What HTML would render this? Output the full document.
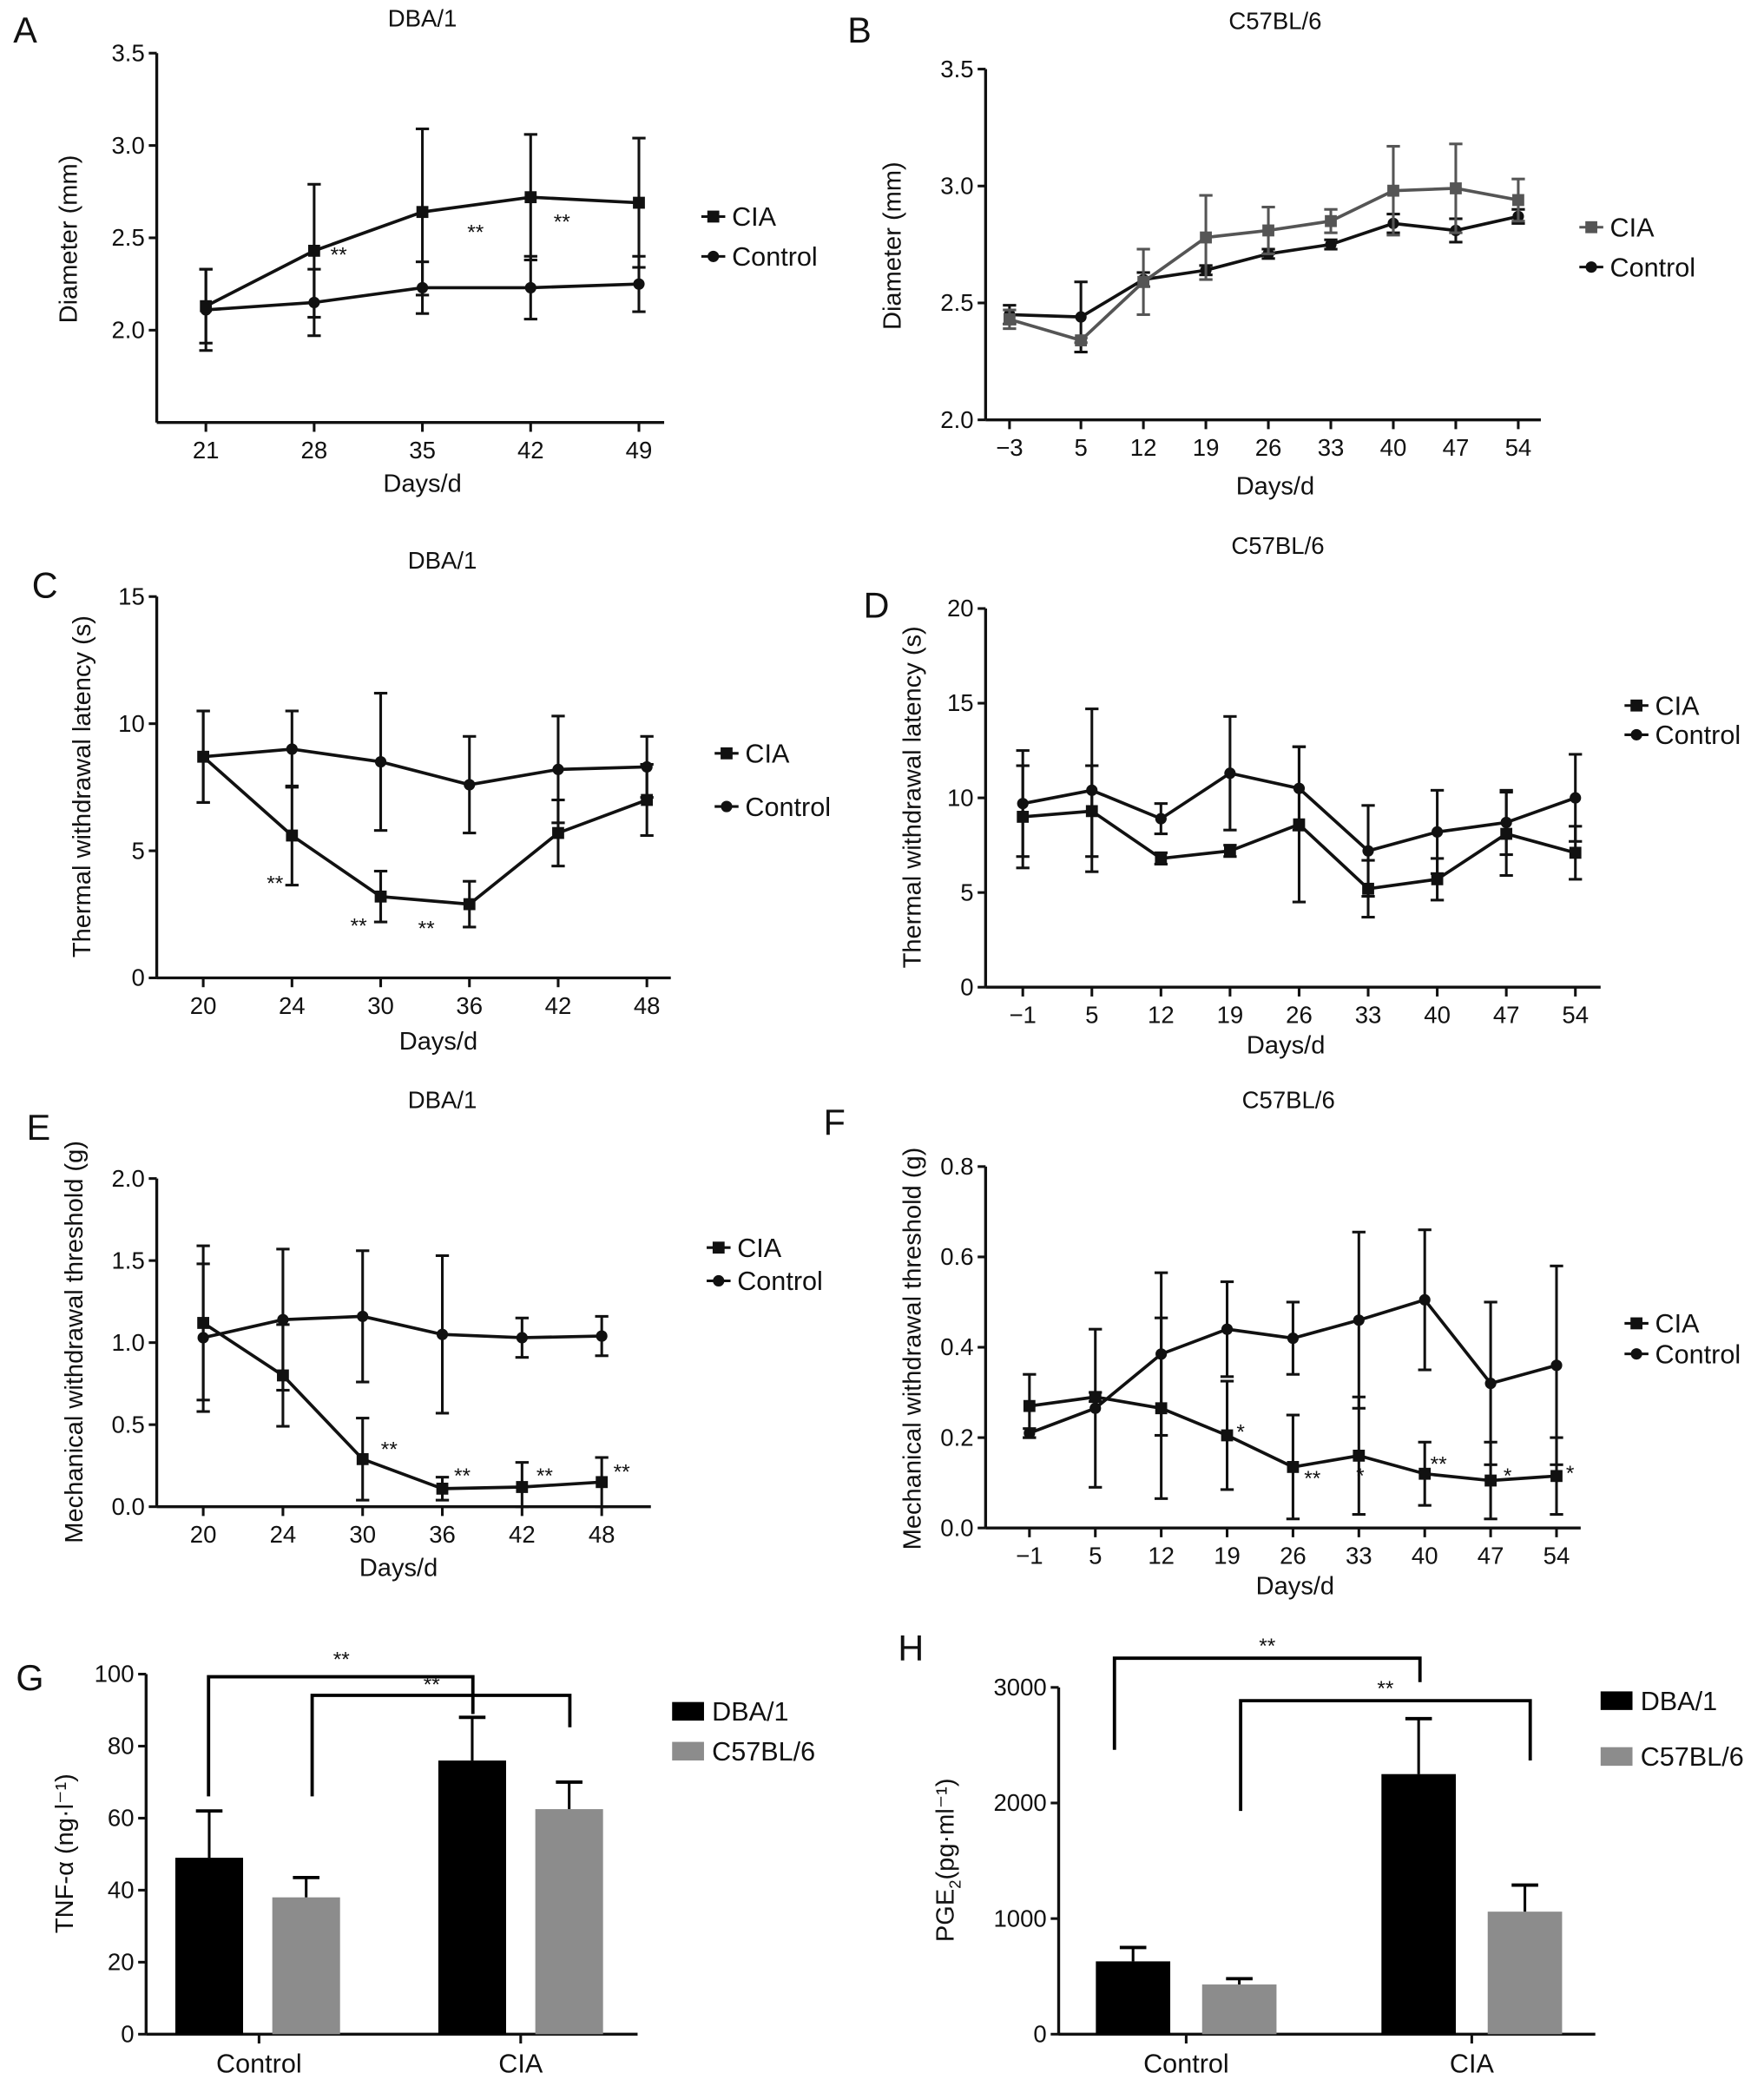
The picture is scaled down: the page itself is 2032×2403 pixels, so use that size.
<!DOCTYPE html>
<html><head><meta charset="utf-8"><style>
html,body{margin:0;padding:0;background:#fff}
svg{display:block}
text{font-family:"Liberation Sans",sans-serif;fill:#111}
</style></head><body>
<svg id="fig" width="2032" height="2403" viewBox="0 0 1328 1570" preserveAspectRatio="none" xmlns="http://www.w3.org/2000/svg"></svg>
<script>
// Panel A
const aDays=[21,28,35,42,49];
const aCIA=[2.13,2.43,2.64,2.72,2.69];
const aCIAerr=[0.2,0.36,0.45,0.34,0.35];
const aCtl=[2.11,2.15,2.23,2.23,2.25];
const aCtlErr=[0.22,0.18,0.14,0.17,0.15];
// Panel B
const bDays=[-3,5,12,19,26,33,40,47,54];
const bCIA=[2.43,2.34,2.59,2.78,2.81,2.85,2.98,2.99,2.94];
const bCIAerr=[0.04,0.01,0.14,0.18,0.1,0.05,0.19,0.19,0.09];
const bCtl=[2.45,2.44,2.60,2.64,2.71,2.75,2.84,2.81,2.87];
const bCtlErr=[0.04,0.15,0.03,0.02,0.02,0.02,0.04,0.05,0.03];
const bLabels=["\u22123","5","12","19","26","33","40","47","54"];
// Panel C
const cDays=["20","24","30","36","42","48"];
const cCIA=[8.7,5.6,3.2,2.9,5.7,7.0];
const cCIAerr=[1.8,1.95,1.0,0.9,1.3,1.4];
const cCtl=[8.7,9.0,8.5,7.6,8.2,8.3];
const cCtlErr=[1.8,1.5,2.7,1.9,2.1,1.2];
// Panel D
const dDays=["\u22121","5","12","19","26","33","40","47","54"];
const dCIA=[9.0,9.3,6.8,7.2,8.6,5.2,5.7,8.1,7.1];
const dCIAerr=[2.7,2.4,0.3,0.3,4.1,1.5,1.1,2.2,1.4];
const dCtl=[9.7,10.4,8.9,11.3,10.5,7.2,8.2,8.7,10.0];
const dCtlErr=[2.8,4.3,0.8,3.0,2.2,2.4,2.2,1.7,2.3];
// Panel E
const eDays=["20","24","30","36","42","48"];
const eCIA=[1.12,0.80,0.29,0.11,0.12,0.15];
const eCIAerr=[0.47,0.31,0.25,0.07,0.15,0.15];
const eCtl=[1.03,1.14,1.16,1.05,1.03,1.04];
const eCtlErr=[0.45,0.43,0.4,0.48,0.12,0.12];
// Panel F
const fDays=["\u22121","5","12","19","26","33","40","47","54"];
const fCIA=[0.27,0.29,0.265,0.205,0.135,0.16,0.12,0.105,0.115];
const fCIAerr=[0.07,0.01,0.2,0.12,0.115,0.13,0.07,0.085,0.085];
const fCtl=[0.21,0.265,0.385,0.44,0.42,0.46,0.505,0.32,0.36];
const fCtlErr=[0.01,0.175,0.18,0.105,0.08,0.195,0.155,0.18,0.22];
// Panel G
const gGroups=["Control","CIA"];
const gDBA=[49,76];
const gDBAerr=[13,12];
const gC57=[38,62.5];
const gC57err=[5.5,7.5];
// Panel H
const hGroups=["Control","CIA"];
const hDBA=[630,2250];
const hDBAerr=[120,480];
const hC57=[430,1060];
const hC57err=[50,230];

const svg=document.getElementById('fig');
const NS="http://www.w3.org/2000/svg";
function el(tag,attrs,parent){const e=document.createElementNS(NS,tag);for(const k in attrs)e.setAttribute(k,attrs[k]);(parent||svg).appendChild(e);return e;}
function txt(s,x,y,size,anchor,parent,extra){const t=el('text',Object.assign({x:x,y:y,'font-size':size,'text-anchor':anchor||'middle'},extra||{}),parent);t.textContent=s;return t;}

function group(name){const g=el('g',{});return g;}

function lineChart(p){
  const g=group(p.name);
  const ys=v=>p.y0-(v-p.vmin)/(p.vmax-p.vmin)*(p.y0-p.y1);
  const xs=i=>p.xFn(i);
  const ya=el('line',{x1:p.ax,y1:p.yTopAxis,x2:p.ax,y2:p.y0,stroke:'#111','stroke-width':2.2},g);
  
  const xa=el('line',{x1:p.ax,y1:p.y0,x2:p.xEnd,y2:p.y0,stroke:'#111','stroke-width':2.2},g);
  
  p.yticks.forEach((v,i)=>{const y=ys(v);el('line',{x1:p.ax-6,y1:y,x2:p.ax,y2:y,stroke:'#111','stroke-width':2},g);
    const t=txt(p.ytickLabels[i],p.ax-9,y+6,18,'end',g);});
  p.xlabels.forEach((s,i)=>{const x=xs(i);el('line',{x1:x,y1:p.y0,x2:x,y2:p.y0+7,stroke:'#111','stroke-width':2},g);
    const t=txt(s,x,p.y0+27,18,'middle',g);});
  const series=[{v:p.ctl,e:p.ctlErr,m:'circle',c:'#111',n:'control'},{v:p.cia,e:p.ciaErr,m:'square',c:p.ciaColor||'#111',n:'cia'}];
  series.forEach(s=>{
    let d='';s.v.forEach((v,i)=>{d+=(i?'L':'M')+xs(i)+' '+ys(v);});
    const pl=el('path',{d:d,fill:'none',stroke:s.c,'stroke-width':2.4},g);
    
    s.v.forEach((v,i)=>{const x=xs(i),y=ys(v),eu=ys(v+s.e[i]),ed=ys(Math.max(p.vmin,v-s.e[i]));
      el('line',{x1:x,y1:eu,x2:x,y2:ed,stroke:s.c,'stroke-width':2},g);
      el('line',{x1:x-5,y1:eu,x2:x+5,y2:eu,stroke:s.c,'stroke-width':2},g);
      el('line',{x1:x-5,y1:ed,x2:x+5,y2:ed,stroke:s.c,'stroke-width':2},g);
      let mk;
      if(s.m==='square')mk=el('rect',{x:x-4.5,y:y-4.5,width:9,height:9,fill:s.c},g);
      else mk=el('circle',{cx:x,cy:y,r:4.3,fill:s.c},g);
      
    });
  });
  const yl=txt(p.ylabel,0,0,19,'middle',g,{transform:`translate(${p.ylx},${p.yly}) rotate(-90)`});
  
  const xl=txt('Days/d',p.xlx,p.xly,19,'middle',g);
  const tt=txt(p.title,p.tx,p.ty,18,'middle',g);
  const lt=txt(p.letter,p.lx,p.ly,27,'start',g);
  const lg=group('legend');g.appendChild(lg);
  [[p.legY1,'CIA','square',p.ciaColor||'#111'],[p.legY2,'Control','circle','#111']].forEach(L=>{
    const le=group('legend-entry');lg.appendChild(le);
    el('line',{x1:p.legX-9,y1:L[0],x2:p.legX+9,y2:L[0],stroke:L[3],'stroke-width':2},le);
    if(L[2]==='square')el('rect',{x:p.legX-4.5,y:L[0]-4.5,width:9,height:9,fill:L[3]},le);else el('circle',{cx:p.legX,cy:L[0],r:4.3,fill:L[3]},le);
    txt(L[1],p.legX+14,L[0]+7,20,'start',le);
  });
  (p.stars||[]).forEach(s=>{const t=txt(s[2],s[0],s[1],16,'middle',g);});
}

function linX(days,d0,x0,d1,x1){return i=>x0+(days[i]-d0)/(d1-d0)*(x1-x0);}

lineChart({name:'panel-a',ax:118,xEnd:500,y0:318,y1:40,yTopAxis:40,vmin:1.5,vmax:3.5,yticks:[2.0,2.5,3.0,3.5],ytickLabels:['2.0','2.5','3.0','3.5'],
  xFn:linX(aDays,21,155,49,481),xlabels:aDays.map(String),cia:aCIA,ciaErr:aCIAerr,ctl:aCtl,ctlErr:aCtlErr,
  ylabel:'Diameter (mm)',ylx:58,yly:180,xlx:318,xly:370,title:'DBA/1',tx:318,ty:20,letter:'A',lx:10,ly:32,legX:537,legY1:163,legY2:193,
  stars:[[255,197,'**'],[358,180,'**'],[423,172,'**']]});
lineChart({name:'panel-b',ax:742,xEnd:1160,y0:316,y1:52,yTopAxis:52,vmin:2.0,vmax:3.5,yticks:[2.0,2.5,3.0,3.5],ytickLabels:['2.0','2.5','3.0','3.5'],
  xFn:linX(bDays,-3,760,54,1143),xlabels:bLabels,cia:bCIA,ciaErr:bCIAerr,ctl:bCtl,ctlErr:bCtlErr,ciaColor:'#555',
  ylabel:'Diameter (mm)',ylx:678,yly:185,xlx:960,xly:372,title:'C57BL/6',tx:960,ty:22,letter:'B',lx:638,ly:32,legX:1198,legY1:171,legY2:201});
lineChart({name:'panel-c',ax:118,xEnd:505,y0:736,y1:449,yTopAxis:449,vmin:0,vmax:15,yticks:[0,5,10,15],ytickLabels:['0','5','10','15'],
  xFn:i=>153+i*66.8,xlabels:cDays,cia:cCIA,ciaErr:cCIAerr,ctl:cCtl,ctlErr:cCtlErr,
  ylabel:'Thermal withdrawal latency (s)',ylx:68,yly:592,xlx:330,xly:790,title:'DBA/1',tx:333,ty:428,letter:'C',lx:24,ly:450,legX:547,legY1:567,legY2:607,
  stars:[[207,670,'**'],[270,702,'**'],[321,704,'**']]});
lineChart({name:'panel-d',ax:742,xEnd:1205,y0:743,y1:458,yTopAxis:458,vmin:0,vmax:20,yticks:[0,5,10,15,20],ytickLabels:['0','5','10','15','20'],
  xFn:i=>770+i*52,xlabels:dDays,cia:dCIA,ciaErr:dCIAerr,ctl:dCtl,ctlErr:dCtlErr,
  ylabel:'Thermal withdrawal latency (s)',ylx:693,yly:600,xlx:968,xly:793,title:'C57BL/6',tx:962,ty:417,letter:'D',lx:650,ly:465,legX:1232,legY1:531,legY2:553});
lineChart({name:'panel-e',ax:118,xEnd:490,y0:1134,y1:887,yTopAxis:887,vmin:0,vmax:2,yticks:[0,0.5,1,1.5,2],ytickLabels:['0.0','0.5','1.0','1.5','2.0'],
  xFn:i=>153+i*60,xlabels:eDays,cia:eCIA,ciaErr:eCIAerr,ctl:eCtl,ctlErr:eCtlErr,
  ylabel:'Mechanical withdrawal threshold (g)',ylx:62,yly:1010,xlx:300,xly:1186,title:'DBA/1',tx:333,ty:834,letter:'E',lx:20,ly:858,legX:541,legY1:939,legY2:964,
  stars:[[293,1096,'**'],[348,1116,'**'],[410,1116,'**'],[468,1113,'**']]});
lineChart({name:'panel-f',ax:742,xEnd:1190,y0:1150,y1:878,yTopAxis:878,vmin:0,vmax:0.8,yticks:[0,0.2,0.4,0.6,0.8],ytickLabels:['0.0','0.2','0.4','0.6','0.8'],
  xFn:i=>775+i*49.6,xlabels:fDays,cia:fCIA,ciaErr:fCIAerr,ctl:fCtl,ctlErr:fCtlErr,
  ylabel:'Mechanical withdrawal threshold (g)',ylx:693,yly:1015,xlx:975,xly:1200,title:'C57BL/6',tx:970,ty:834,letter:'F',lx:620,ly:854,legX:1232,legY1:996,legY2:1019,
  stars:[[934,1083,'*'],[988,1118,'**'],[1024,1116,'*'],[1083,1107,'**'],[1135,1116,'*'],[1182,1114,'*']]});

function barChart(p){
  const g=group(p.name);
  const ys=v=>p.y0-v/p.vmax*(p.y0-p.y1);
  el('line',{x1:p.ax,y1:p.y1,x2:p.ax,y2:p.y0,stroke:'#111','stroke-width':2.2},g);
  el('line',{x1:p.ax,y1:p.y0,x2:p.xEnd,y2:p.y0,stroke:'#111','stroke-width':2.2},g);
  p.yticks.forEach(v=>{const y=ys(v);el('line',{x1:p.ax-6,y1:y,x2:p.ax,y2:y,stroke:'#111','stroke-width':2},g);
    const t=txt(String(v),p.ax-9,y+6,18,'end',g);});
  const series=[[p.dba,p.dbaErr,'#000',p.dbaX,'dba-bar'],[p.c57,p.c57Err,'#8c8c8c',p.c57X,'c57-bar']];
  series.forEach(s=>{s[0].forEach((v,i)=>{const x=s[3][i],w=p.bw,top=ys(v),et=ys(v+s[1][i]);
    const r=el('rect',{x:x,y:top,width:w,height:p.y0-top,fill:s[2]},g);
    el('line',{x1:x+w/2,y1:top,x2:x+w/2,y2:et,stroke:'#000','stroke-width':2},g);
    el('line',{x1:x+w/2-10,y1:et,x2:x+w/2+10,y2:et,stroke:'#000','stroke-width':2.5},g);});});
  p.groups.forEach((s,i)=>{const x=p.gx[i];el('line',{x1:x,y1:p.y0,x2:x,y2:p.y0+7,stroke:'#111','stroke-width':2},g);
    const t=txt(s,x,p.y0+29,20,'middle',g);});
  p.brackets.forEach(b=>{const pth=el('path',{d:`M${b[0]} ${b[1]}V${b[2]}H${b[3]}V${b[4]}`,fill:'none',stroke:'#000','stroke-width':2.5},g);
    
    txt('**',b[5],b[6],16,'middle',g);});
  const yl=txt(p.ylabel,0,0,19,'middle',g,{transform:`translate(${p.ylx},${p.yly}) rotate(-90)`});
  
  const lt=txt(p.letter,p.lx,p.ly,27,'start',g);
  const lg=group('legend');g.appendChild(lg);
  [[p.legY1,'DBA/1','#000'],[p.legY2,'C57BL/6','#8c8c8c']].forEach(L=>{const le=group('legend-entry');lg.appendChild(le);
    el('rect',{x:p.legX,y:L[0]-7,width:24,height:14,fill:L[2]},le);txt(L[1],p.legX+30,L[0]+7,20,'start',le);});
  return g;
}
barChart({name:'panel-g',ax:110,xEnd:480,y0:1531,y1:1260,vmax:100,yticks:[0,20,40,60,80,100],groups:gGroups,gx:[195,392],
  dba:gDBA,dbaErr:gDBAerr,c57:gC57,c57Err:gC57err,dbaX:[132,330],c57X:[205,403],bw:51,
  brackets:[[157,1352,1262,356,1290,257,1254],[235,1352,1276,429,1300,325,1273]],
  ylabel:'TNF-\u03b1 (ng\u00b7l\u207b\u00b9)',ylx:55,yly:1395,letter:'G',lx:12,ly:1272,legX:506,legY1:1288,legY2:1318});
const gh=barChart({name:'panel-h',ax:797,xEnd:1201,y0:1531,y1:1270,vmax:3000,yticks:[0,1000,2000,3000],groups:hGroups,gx:[893,1108],
  dba:hDBA,dbaErr:hDBAerr,c57:hC57,c57Err:hC57err,dbaX:[825,1040],c57X:[905,1120],bw:56,
  brackets:[[839,1317,1248,1069,1266,954,1244],[934,1363,1280,1152,1325,1043,1276]],
  ylabel:'',ylx:715,yly:1400,letter:'H',lx:676,ly:1250,legX:1205,legY1:1280,legY2:1322});
const ht=el('text',{x:0,y:0,'font-size':19,'text-anchor':'middle',transform:'translate(718,1400) rotate(-90)'},gh);

ht.innerHTML='PGE<tspan font-size="12" dy="5">2</tspan><tspan dy="-5">(pg\u00b7ml\u207b\u00b9)</tspan>';
</script>
</body></html>
